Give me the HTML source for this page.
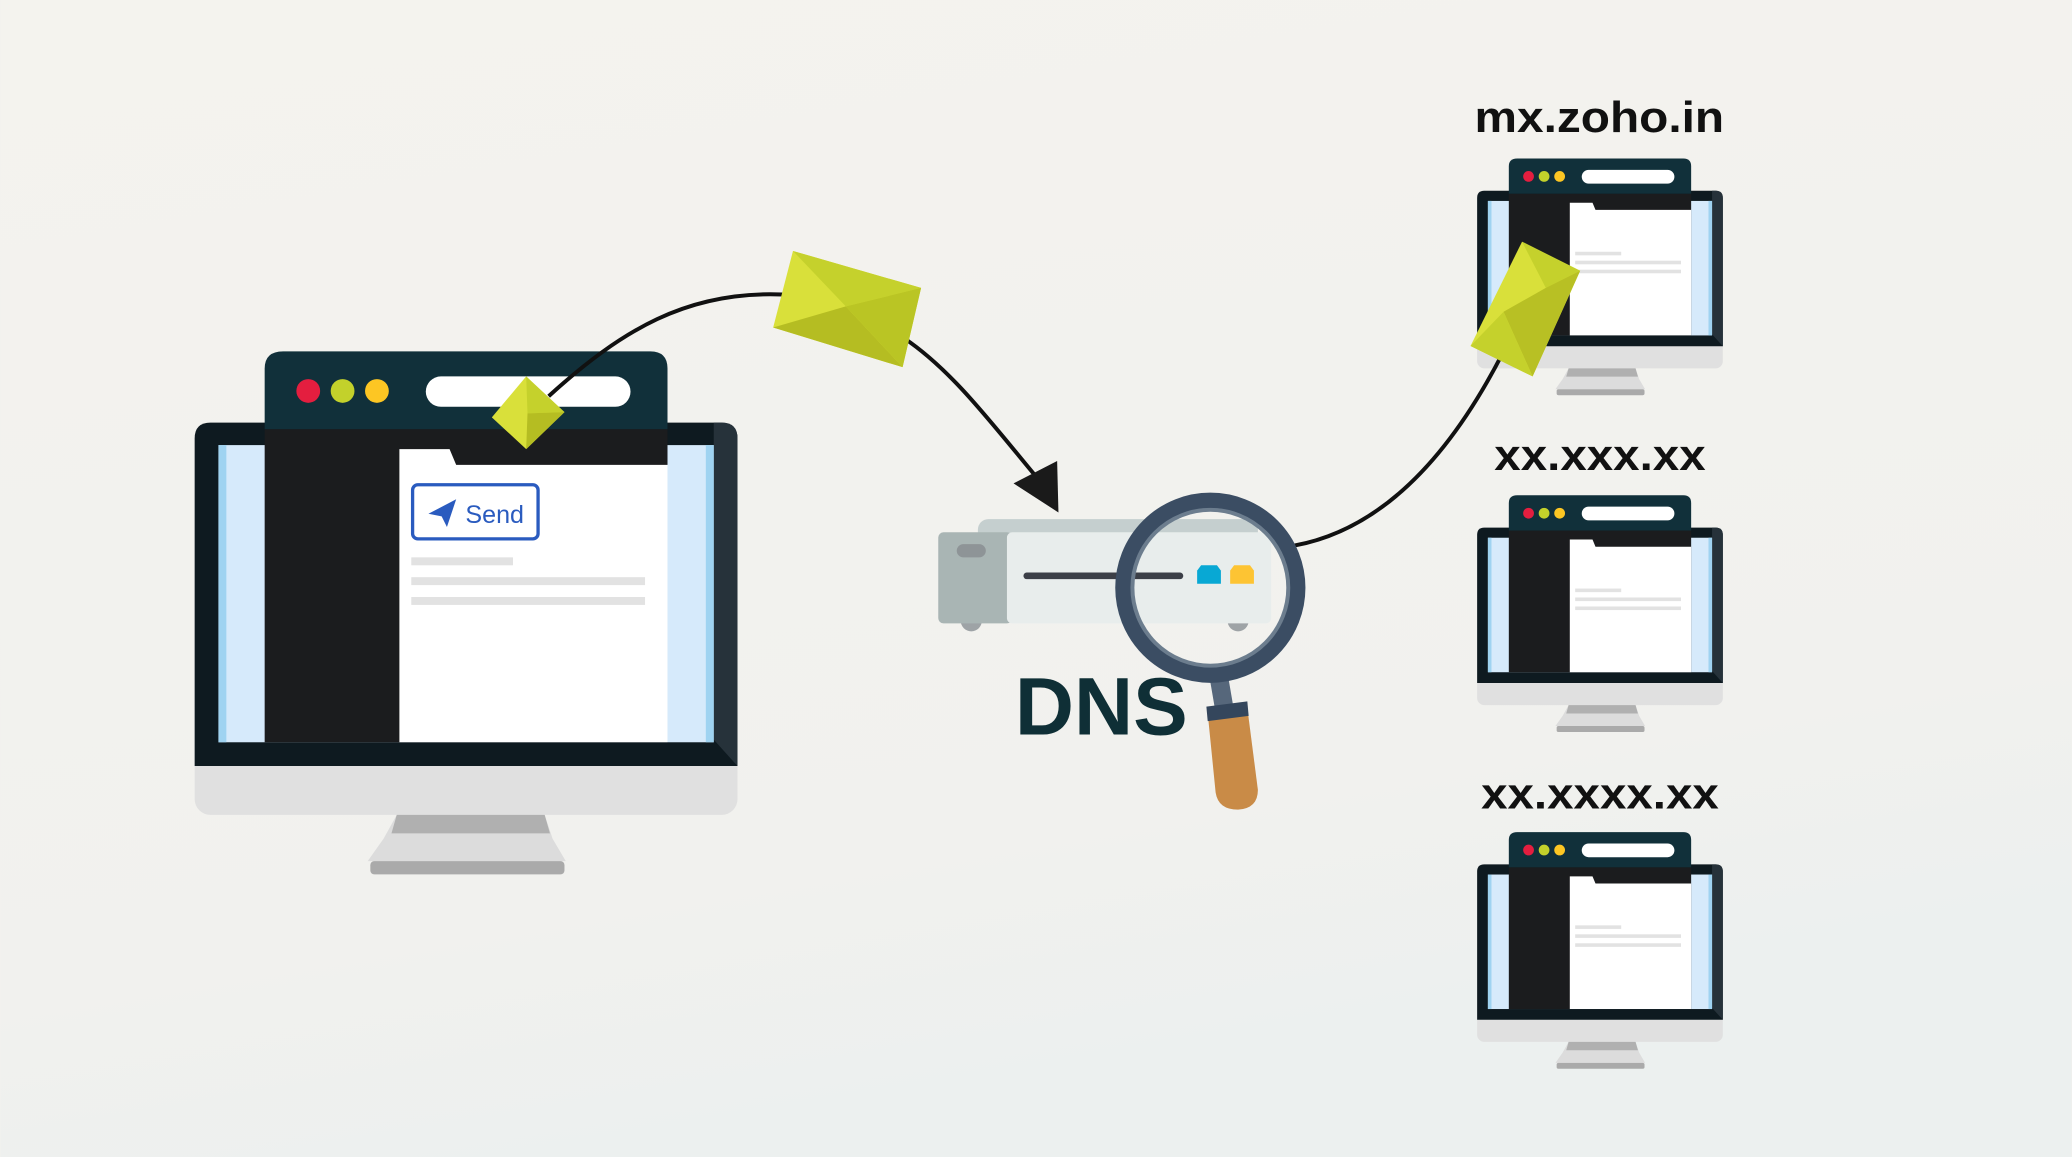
<!DOCTYPE html>
<html><head><meta charset="utf-8"><style>
html,body{margin:0;padding:0;width:2072px;height:1157px;overflow:hidden;background:#f2f1ed}
svg{display:block}
</style></head><body>
<svg width="2072" height="1157" viewBox="0 0 1568 876" xmlns="http://www.w3.org/2000/svg">
<defs>
<linearGradient id="bg" x1="0" y1="0" x2="0.3" y2="1">
<stop offset="0" stop-color="#f4f3ee"/><stop offset="0.8" stop-color="#f1f1ee"/><stop offset="1" stop-color="#ecf0ef"/>
</linearGradient>
<g id="mon">
<rect x="147" y="320" width="411" height="297" rx="12" fill="#e0e0e0"/>
<path d="M159 320 H546 Q558 320 558 332 V580 H147 V332 Q147 320 159 320Z" fill="#0e1a20"/>
<path d="M505 320 H546 Q558 320 558 332 V580 L540 560 V320Z" fill="#26323a"/>
<rect x="165" y="337" width="375" height="225" fill="#d6eafb"/>
<rect x="165" y="337" width="6" height="225" fill="#9fd3f1"/>
<rect x="534" y="337" width="6" height="225" fill="#9fd3f1"/>
<path d="M300 617 H412 L418 635 L428 652 H278 L290 635Z" fill="#dcdcdc"/>
<path d="M300 617 H412 L416 631 H296Z" fill="#b0b0b0"/>
<rect x="280" y="652" width="147" height="10" rx="3" fill="#aaaaaa"/>
<path d="M214 266 H492 Q505 266 505 279 V325 H200 V279 Q200 266 214 266Z" fill="#11303a"/>
<rect x="200" y="325" width="305" height="237" fill="#1b1c1e"/>
<path d="M302 340 H340 L345 352 H505 V562 H302Z" fill="#ffffff"/>
<circle cx="233" cy="296" r="9" fill="#e41e3f"/>
<circle cx="259" cy="296" r="9" fill="#c3d12b"/>
<circle cx="285" cy="296" r="9" fill="#fdc623"/>
<rect x="322" y="285" width="155" height="23" rx="11.5" fill="#ffffff"/>
<rect x="311" y="422" width="77" height="6" fill="#e2e2e2"/>
<rect x="311" y="437" width="177" height="6" fill="#e2e2e2"/>
<rect x="311" y="452" width="177" height="6" fill="#e2e2e2"/>
</g>
</defs>
<rect width="1568" height="876" fill="url(#bg)"/>

<use href="#mon"/>
<rect x="312" y="367" width="95" height="41" rx="4" fill="#fff" stroke="#2a5bbf" stroke-width="2.5"/>
<path d="M324 389 L345 378 L338 399 L334 391Z" fill="#2a5bbf"/>
<text x="352" y="396" font-family="Liberation Sans, sans-serif" font-size="19" fill="#2a5bbf">Send</text>

<use href="#mon" transform="translate(1118,120) scale(0.4526) translate(-147,-266)"/>
<use href="#mon" transform="translate(1118,375) scale(0.4526) translate(-147,-266)"/>
<use href="#mon" transform="translate(1118,630) scale(0.4526) translate(-147,-266)"/>

<g font-family="Liberation Sans, sans-serif" font-size="33" font-weight="bold" fill="#111">
<text x="1116" y="100" textLength="189" lengthAdjust="spacingAndGlyphs">mx.zoho.in</text>
<text x="1131" y="356" textLength="160" lengthAdjust="spacingAndGlyphs">xx.xxx.xx</text>
<text x="1121" y="612" textLength="180" lengthAdjust="spacingAndGlyphs">xx.xxxx.xx</text>
</g>

<path d="M415 300 C470 250 520 220 592 223" fill="none" stroke="#111" stroke-width="3"/>
<path d="M684 256 C720 280 750 320 785 362" fill="none" stroke="#111" stroke-width="3"/>
<path d="M767 366 L800 349 L801 388Z" fill="#1a1a1a"/>
<path d="M980 413 C1050 400 1100 340 1137 268" fill="none" stroke="#111" stroke-width="3"/>

<circle cx="735" cy="470" r="8" fill="#9ea3a6"/>
<circle cx="937" cy="470" r="8" fill="#9ea3a6"/>
<rect x="740" y="393" width="212" height="20" rx="8" fill="#c5cfcf"/>
<rect x="710" y="403" width="56" height="69" rx="4" fill="#a9b5b4"/>
<rect x="762" y="403" width="200" height="69" rx="4" fill="#e8edec"/>
<rect x="724" y="412" width="22" height="10" rx="5" fill="#8e9497"/>
<line x1="777" y1="436" x2="893" y2="436" stroke="#3b3f47" stroke-width="5" stroke-linecap="round"/>
<path d="M909 428 H921 L924 432 V442 H906 V432Z" fill="#08a8d4"/>
<path d="M934 428 H946 L949 432 V442 H931 V432Z" fill="#fdc433"/>

<text x="768" y="556" font-family="Liberation Sans, sans-serif" font-weight="bold" font-size="62" fill="#0f2f36">DNS</text>

<line x1="922" y1="510" x2="928" y2="545" stroke="#56677b" stroke-width="14"/>
<path d="M914 540 L944 536 L952 598 Q952 612 937 613 Q922 613 920 600Z" fill="#c98b47"/>
<path d="M913 535 L944 531 L945 542 L914 546Z" fill="#34465c"/>
<circle cx="916" cy="445" r="66" fill="none" stroke="#3b4d63" stroke-width="12"/>
<circle cx="916" cy="445" r="59" fill="none" stroke="#6c7d8e" stroke-width="3"/>

<g>
<path d="M600 190 L697 218 L683 278 L585 248Z" fill="#d9e03a"/>
<path d="M600 190 L697 218 L640 232Z" fill="#c5d12c"/>
<path d="M585 248 L640 232 L683 278Z" fill="#b5bd22"/>
<path d="M697 218 L683 278 L640 232Z" fill="#bac524"/>
</g>
<g>
<path d="M398 285 L427 312 L398 340 L372 316Z" fill="#d9e03a"/>
<path d="M398 285 L427 312 L399 313Z" fill="#c5d12c"/>
<path d="M399 313 L427 312 L398 340Z" fill="#b5bd22"/>
</g>
<g>
<path d="M1152 183 L1196 205 L1160 285 L1113 262Z" fill="#d9e03a"/>
<path d="M1152 183 L1196 205 L1170 218Z" fill="#c5d12c"/>
<path d="M1170 218 L1196 205 L1160 285 L1138 236Z" fill="#b8c024"/>
<path d="M1113 262 L1138 236 L1160 285Z" fill="#c5d12c"/>
</g>
</svg>
</body></html>
